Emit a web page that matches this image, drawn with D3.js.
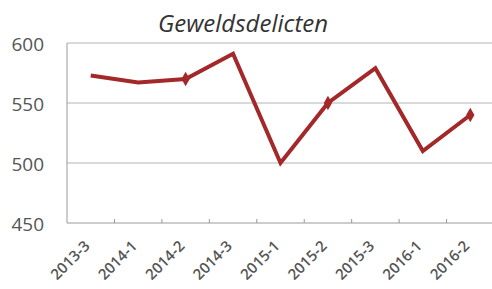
<!DOCTYPE html>
<html>
<head>
<meta charset="utf-8">
<script src="https://cdn.jsdelivr.net/npm/d3@7"></script>
<style>
  body { margin: 0; background: #fff; }
  svg { display: block; font-family: "Open Sans", "DejaVu Sans", sans-serif; }
</style>
</head>
<body>
<div id="graph"></div>
<script>
var title = 'Geweldsdelicten';
var periods = ['2013-3','2014-1','2014-2','2014-3','2015-1','2015-2','2015-3','2016-1','2016-2'];
var values = [573, 567, 570, 591, 500, 550, 579, 510, 540];
var marked = ['2014-2','2015-2','2016-2'];
var yTicks = [450, 500, 550, 600];

var width = 492, height = 289;
var m_left = 67, m_right = 494, m_top = 43, m_bottom = 223;

var svg = d3.select('#graph').append('svg')
  .attr('width', width)
  .attr('height', height);

var xscale = d3.scaleBand()
  .domain(periods)
  .range([m_left, m_right]);

var yscale = d3.scaleLinear()
  .domain([450, 600])
  .range([m_bottom, m_top]);

// gridlines
svg.selectAll('.grid')
  .data(yTicks.slice(1))
  .enter().append('line')
  .attr('x1', m_left).attr('x2', width)
  .attr('y1', function(d) { return yscale(d); })
  .attr('y2', function(d) { return yscale(d); })
  .attr('stroke', '#b4b4b4')
  .attr('stroke-width', 1);

// y labels
svg.selectAll('.ylab')
  .data(yTicks)
  .enter().append('text')
  .attr('x', 44)
  .attr('y', function(d) { return yscale(d) + 8; })
  .attr('text-anchor', 'end')
  .attr('font-size', 19)
  .attr('fill', '#555')
  .text(function(d) { return d; });

// axes lines
svg.append('line')
  .attr('x1', m_left).attr('x2', m_left)
  .attr('y1', m_top).attr('y2', m_bottom)
  .attr('stroke', '#999');
svg.append('line')
  .attr('x1', m_left).attr('x2', width)
  .attr('y1', m_bottom).attr('y2', m_bottom)
  .attr('stroke', '#999');

// category tick marks
svg.selectAll('.tick')
  .data(periods.slice(1))
  .enter().append('line')
  .attr('x1', function(d) { return xscale(d); })
  .attr('x2', function(d) { return xscale(d); })
  .attr('y1', m_bottom - 4).attr('y2', m_bottom)
  .attr('stroke', '#999');

// x labels
svg.selectAll('.xlab')
  .data(periods)
  .enter().append('text')
  .attr('transform', function(d) {
    return 'translate(' + (xscale(d) + xscale.bandwidth() / 2) + ',' + (m_bottom + 24) + ') rotate(-45)';
  })
  .attr('text-anchor', 'end')
  .attr('font-size', 15)
  .attr('font-weight', 600)
  .attr('fill', '#555')
  .text(function(d) { return d; });

// line
var line = d3.line()
  .x(function(d, i) { return xscale(periods[i]) + xscale.bandwidth() / 2; })
  .y(function(d) { return yscale(d); });

svg.append('path')
  .datum(values)
  .attr('d', line)
  .attr('fill', 'none')
  .attr('stroke', '#a3282a')
  .attr('stroke-width', 4)
  .attr('stroke-linejoin', 'miter');

// markers
svg.selectAll('.marker')
  .data(periods.filter(function(p) { return marked.indexOf(p) >= 0; }))
  .enter().append('path')
  .attr('d', d3.symbol().type(d3.symbolDiamond).size(60))
  .attr('transform', function(d) {
    return 'translate(' + (xscale(d) + xscale.bandwidth() / 2) + ',' + yscale(values[periods.indexOf(d)]) + ')';
  })
  .attr('fill', '#a3282a');

// title
svg.append('text')
  .attr('x', 243)
  .attr('y', 32)
  .attr('text-anchor', 'middle')
  .attr('font-size', 24)
  .attr('font-style', 'italic')
  .attr('fill', '#333')
  .text(title);
</script>
</body>
</html>
